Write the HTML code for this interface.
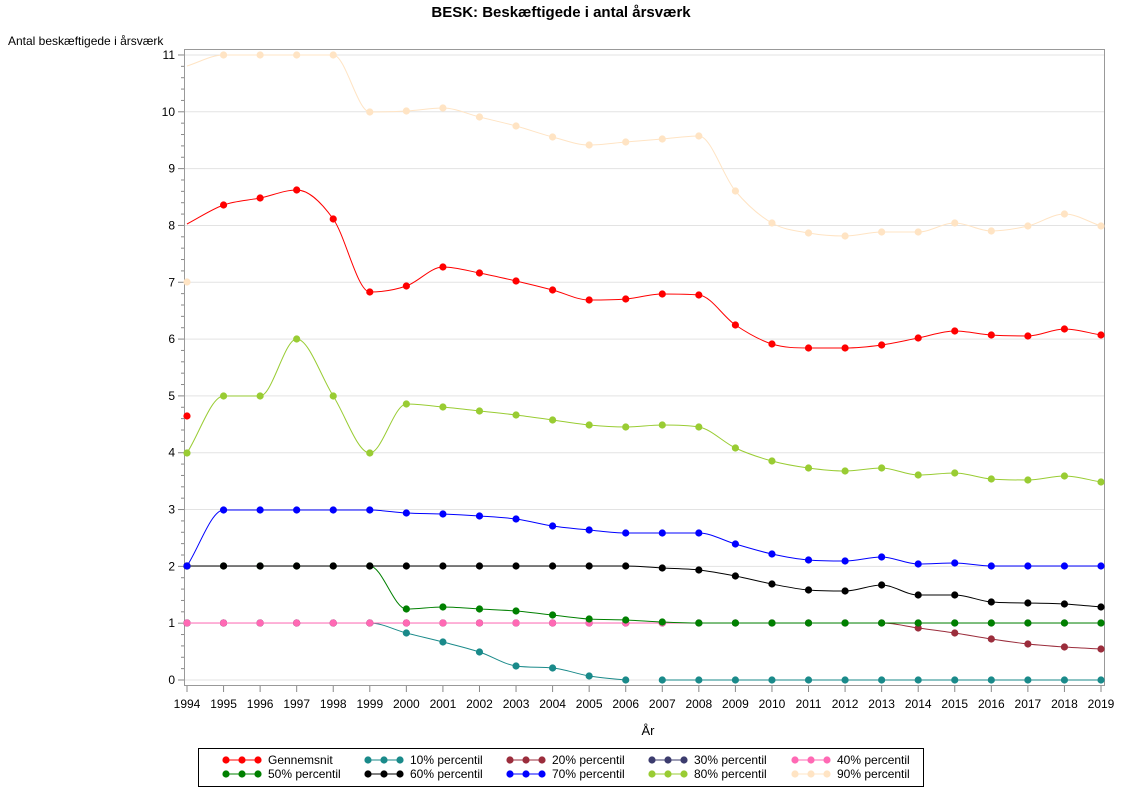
<!DOCTYPE html>
<html><head><meta charset="utf-8"><style>
body{margin:0;background:#fff;}
svg{display:block;font-family:"Liberation Sans",sans-serif;}
</style></head><body>
<svg id="s" width="1122" height="793" xmlns="http://www.w3.org/2000/svg">
<text x="561" y="17" text-anchor="middle" font-size="15" font-weight="bold">BESK: Beskæftigede i antal årsværk</text>
<text x="8" y="45" font-size="12">Antal beskæftigede i årsværk</text>
<text x="648" y="735" text-anchor="middle" font-size="13">År</text>
<g id="g"></g>
<rect x="198.5" y="748.5" width="725" height="38" fill="none" stroke="#000"/>
</svg>
<script>
const NS="http://www.w3.org/2000/svg",g=document.getElementById('g');
function el(t,a,txt){const e=document.createElementNS(NS,t);for(const k in a)e.setAttribute(k,a[k]);if(txt!==undefined)e.textContent=txt;g.appendChild(e);return e;}
const X=i=>187+i*(914/25), Y=v=>680-v*56.82;
for(let v=0;v<=11;v++){el('line',{x1:185,x2:1105,y1:Y(v),y2:Y(v),stroke:'#e3e3e3'});}
el('rect',{x:184.5,y:49.5,width:920,height:636,fill:'none',stroke:'#999'});
for(let v=0;v<=11;v++){el('line',{x1:178,x2:184,y1:Y(v),y2:Y(v),stroke:'#888'});
 el('text',{x:175,y:Y(v)+4,'text-anchor':'end','font-size':12},v);
 if(v<11)for(let m=1;m<5;m++)el('line',{x1:181,x2:184,y1:Y(v+m/5),y2:Y(v+m/5),stroke:'#888'});}
for(let i=0;i<=25;i++){el('line',{x1:X(i),x2:X(i),y1:686,y2:692,stroke:'#888'});
 el('text',{x:X(i),y:708,'text-anchor':'middle','font-size':12},1994+i);}
function path(pts){const n=pts.length;if(n<2)return '';
 const h=pts[1][0]-pts[0][0];const d=[];for(let i=0;i<n-1;i++)d.push((pts[i+1][1]-pts[i][1])/h);
 const m=[];m[0]=d[0];m[n-1]=d[n-2];
 for(let i=1;i<n-1;i++){m[i]=(d[i-1]*d[i]<=0)?0:(d[i-1]+d[i])/2;}
 for(let i=0;i<n-1;i++){if(d[i]==0){m[i]=0;m[i+1]=0;continue;}const a=m[i]/d[i],b=m[i+1]/d[i],s=a*a+b*b;if(s>9){const t=3/Math.sqrt(s);m[i]=t*a*d[i];m[i+1]=t*b*d[i];}}
 let s='M'+pts[0][0]+','+pts[0][1];
 for(let i=0;i<n-1;i++){s+=' C'+(pts[i][0]+h/3)+','+(pts[i][1]+m[i]*h/3)+' '+(pts[i+1][0]-h/3)+','+(pts[i+1][1]-m[i+1]*h/3)+' '+pts[i+1][0]+','+pts[i+1][1];}
 return s;}
function series(col,ys,first,from,ptsFrom,ptsTo){from=from||0;
 const pts=[];ys.forEach((y,i)=>{if(i>=from)pts.push([X(i),(i==0&&first!=null)?first:y]);});
 el('path',{d:path(pts),fill:'none',stroke:col,'stroke-width':1});
 ys.forEach((y,i)=>{if(ptsFrom!=null&&(i<ptsFrom||i>ptsTo))return;el('circle',{cx:X(i),cy:y,r:3.6,fill:col});});}
const rep=(v,n)=>Array(n).fill(v);
const teal=[...rep(623,6),633,642,652,666,668,676,680,...rep(680,13)];
el('path',{d:path(teal.slice(0,13).map((y,i)=>[X(i),y])),fill:'none',stroke:'#1a8a8a'});
el('path',{d:path(teal.slice(13).map((y,i)=>[X(i+13),y])),fill:'none',stroke:'#1a8a8a'});
teal.forEach((y,i)=>el('circle',{cx:X(i),cy:y,r:3.6,fill:'#1a8a8a'}));
series('#9b2d3c',[...rep(623,20),628,633,639,644,647,649]);
series('#3c3c6e',rep(623,26));
series('#ff69b4',rep(623,26),null,0,0,13);
series('#008000',[...rep(566,6),609,607,609,611,615,619,620,622,623,...rep(623,11)]);
series('#000',[...rep(566,13),568,570,576,584,590,591,585,595,595,602,603,604,607]);
series('#0000ff',[566,...rep(510,5),513,514,516,519,526,530,533,533,533,544,554,560,561,557,564,563,566,566,566,566]);
series('#99cc33',[453,396,396,339,396,453,404,407,411,415,420,425,427,425,427,448,461,468,471,468,475,473,479,480,476,482]);
series('#ff0000',[416,205,198,190,219,292,286,267,273,281,290,300,299,294,295,325,344,348,348,345,338,331,335,336,329,335],224);
series('#ffe4c4',[282,55,55,55,55,112,111,108,117,126,137,145,142,139,136,191,223,233,236,232,232,223,231,226,214,226],66);
const L=[['#ff0000','Gennemsnit'],['#1a8a8a','10% percentil'],['#9b2d3c','20% percentil'],['#3c3c6e','30% percentil'],['#ff69b4','40% percentil'],
['#008000','50% percentil'],['#000','60% percentil'],['#0000ff','70% percentil'],['#99cc33','80% percentil'],['#ffe4c4','90% percentil']];
const cx=[226,368,510,652,795];
L.forEach((l,k)=>{const c=cx[k%5],y=k<5?760:774;
 el('line',{x1:c,x2:c+32,y1:y,y2:y,stroke:l[0]});
 [0,16,32].forEach(o=>el('circle',{cx:c+o,cy:y,r:3.6,fill:l[0]}));
 el('text',{x:c+42,y:y+4,'font-size':12},l[1]);});
</script>
</body></html>
